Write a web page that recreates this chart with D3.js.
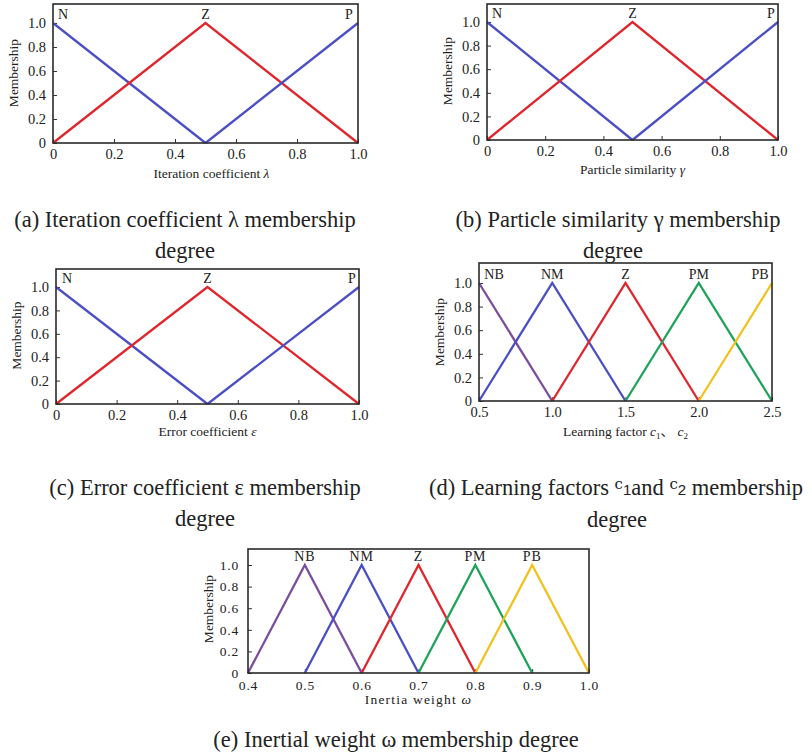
<!DOCTYPE html>
<html>
<head>
<meta charset="utf-8">
<script src="https://cdn.jsdelivr.net/npm/d3@7"></script>
<style>
  html, body { margin: 0; padding: 0; background: #fff; }
  svg { display: block; }
  svg text { font-family: "Liberation Serif", serif; fill: #222; }
</style>
</head>
<body>
<svg id="chart" width="812" height="756"></svg>
<script>
// ---------------- DATA ----------------
// Three-set panels (a), (b), (c): N, Z, P
const threeNames = ["N", "Z", "P"];
const threeX = [[0, 0.5], [0, 0.5, 1.0], [0.5, 1.0]];
const threeY = [[1, 0], [0, 1, 0], [0, 1]];
const threePeaks = [0, 0.5, 1.0];
const unitTicks = [0, 0.2, 0.4, 0.6, 0.8, 1.0];
const unitTickLabels = ["0", "0.2", "0.4", "0.6", "0.8", "1.0"];

// Panel (d): learning factors c1, c2
const dNames = ["NB", "NM", "Z", "PM", "PB"];
const dX = [[0.5, 1.0], [0.5, 1.0, 1.5], [1.0, 1.5, 2.0], [1.5, 2.0, 2.5], [2.0, 2.5]];
const dY = [[1, 0], [0, 1, 0], [0, 1, 0], [0, 1, 0], [0, 1]];
const dPeaks = [0.5, 1.0, 1.5, 2.0, 2.5];
const dTicks = [0.5, 1.0, 1.5, 2.0, 2.5];
const dTickLabels = ["0.5", "1.0", "1.5", "2.0", "2.5"];

// Panel (e): inertia weight
const eNames = ["NB", "NM", "Z", "PM", "PB"];
const eX = [[0.4, 0.5, 0.6], [0.5, 0.6, 0.7], [0.6, 0.7, 0.8], [0.7, 0.8, 0.9], [0.8, 0.9, 1.0]];
const eY = [[0, 1, 0], [0, 1, 0], [0, 1, 0], [0, 1, 0], [0, 1, 0]];
const ePeaks = [0.5, 0.6, 0.7, 0.8, 0.9];
const eTicks = [0.4, 0.5, 0.6, 0.7, 0.8, 0.9, 1.0];
const eTickLabels = ["0.4", "0.5", "0.6", "0.7", "0.8", "0.9", "1.0"];

const yTicks = [0, 0.2, 0.4, 0.6, 0.8, 1.0];
const yTickLabels = ["0", "0.2", "0.4", "0.6", "0.8", "1.0"];

// ---------------- STYLE ----------------
const SERIF = '"Liberation Serif", serif';
const RED = "#e0262d", BLUE = "#4a4fc3", PURPLE = "#7b4d9e", GREEN = "#1fa35b", YELLOW = "#f1c21f";
const threeColors = [BLUE, RED, BLUE];
const fiveColors = [PURPLE, BLUE, RED, GREEN, YELLOW];

const svg = d3.select("#chart");

function drawPanel(p) {
  const x = d3.scaleLinear().domain(p.xDomain).range([p.left, p.right]);
  const y = d3.scaleLinear().domain([0, 1]).range([p.y0, p.y1]);
  const g = svg.append("g");

  const xa = d3.axisBottom(x).tickValues(p.xTicks)
    .tickFormat((d, i) => p.xTickLabels[i]).tickSize(-4).tickPadding(p.xPad || 6);
  const gx = g.append("g").attr("transform", `translate(0,${p.y0})`).call(xa);
  gx.attr("font-family", SERIF);
  gx.select(".domain").remove();
  gx.selectAll("line").attr("stroke", "#333");
  gx.selectAll("text").attr("font-size", p.tickFont).attr("fill", "#222")
    .attr("font-family", SERIF).style("letter-spacing", p.tickSpacing || "0px");

  const ya = d3.axisLeft(y).tickValues(yTicks)
    .tickFormat((d, i) => yTickLabels[i]).tickSize(-4).tickPadding(p.yPad || 7);
  const gy = g.append("g").attr("transform", `translate(${p.left},0)`).call(ya);
  gy.attr("font-family", SERIF);
  gy.select(".domain").remove();
  gy.selectAll("line").attr("stroke", "#333");
  gy.selectAll("text").attr("font-size", p.tickFont).attr("fill", "#222")
    .attr("font-family", SERIF).style("letter-spacing", p.tickSpacing || "0px");

  const line = d3.line().x(d => x(d[0])).y(d => y(d[1]));
  p.xs.forEach((xs, i) => {
    const pts = xs.map((xv, j) => [xv, p.ys[i][j]]);
    g.append("path").attr("d", line(pts)).attr("fill", "none")
      .attr("stroke", p.colors[i]).attr("stroke-width", 2.3)
      .attr("stroke-linejoin", "miter").attr("stroke-linecap", "butt");
  });

  g.append("rect").attr("x", p.left).attr("y", p.top)
    .attr("width", p.right - p.left).attr("height", p.y0 - p.top)
    .attr("fill", "none").attr("stroke", "#2a2a2a").attr("stroke-width", 1.6);

  p.names.forEach((n, i) => {
    let px = x(p.peaks[i]);
    if (p.peaks[i] === p.xDomain[0]) px += p.edgeShift[0];
    if (p.peaks[i] === p.xDomain[1]) px -= p.edgeShift[1];
    g.append("text").attr("x", px).attr("y", p.y1 - 4)
      .attr("text-anchor", "middle").attr("font-size", p.labelFont)
      .attr("font-family", SERIF)
      .style("letter-spacing", p.tickSpacing || "0px")
      .text(n);
  });

  g.append("text")
    .attr("transform", `translate(${p.left - 35},${(p.y0 + p.y1) / 2 - 10}) rotate(-90)`)
    .attr("text-anchor", "middle").attr("font-size", 13.5).attr("font-family", SERIF).text("Membership");

  const t = g.append("text").attr("x", (p.left + p.right) / 2 + p.titleShift)
    .attr("y", p.y0 + p.titleDy).attr("text-anchor", "middle").attr("font-family", SERIF)
    .attr("font-size", p.titleFont).style("letter-spacing", p.titleSpacing || "0px");
  p.title(t);
}

function caption(lines) {
  lines.forEach(l => {
    const t = svg.append("text").attr("x", l.x).attr("y", l.y)
      .attr("text-anchor", "middle").attr("font-size", 22.5).attr("font-family", SERIF).attr("fill", "#111");
    if (typeof l.text === "function") l.text(t); else t.text(l.text);
  });
}

// (a)
drawPanel({
  left: 53, right: 358, top: 4, y0: 143, y1: 23, xDomain: [0, 1],
  xTicks: unitTicks, xTickLabels: unitTickLabels,
  xs: threeX, ys: threeY, colors: threeColors, names: threeNames, peaks: threePeaks,
  edgeShift: [10, 9], tickFont: 14.5, labelFont: 14, titleFont: 13.5, titleDy: 35, titleShift: 6,
  title: t => { t.append("tspan").text("Iteration coefficient "); t.append("tspan").attr("font-style", "italic").text("λ"); }
});
// (b)
drawPanel({
  left: 487, right: 778, top: 4, y0: 140, y1: 22, xDomain: [0, 1],
  xTicks: unitTicks, xTickLabels: unitTickLabels,
  xs: threeX, ys: threeY, colors: threeColors, names: threeNames, peaks: threePeaks,
  edgeShift: [10, 7], tickFont: 14.5, labelFont: 14, titleFont: 13.5, titleDy: 34, titleShift: 0,
  title: t => { t.append("tspan").text("Particle similarity "); t.append("tspan").attr("font-style", "italic").text("γ"); }
});
// (c)
drawPanel({
  left: 56, right: 359, top: 269, y0: 404, y1: 287, xDomain: [0, 1],
  xTicks: unitTicks, xTickLabels: unitTickLabels,
  xs: threeX, ys: threeY, colors: threeColors, names: threeNames, peaks: threePeaks,
  edgeShift: [11, 7], tickFont: 14.5, labelFont: 14, titleFont: 13.5, titleDy: 32, titleShift: 0,
  title: t => { t.append("tspan").text("Error coefficient "); t.append("tspan").attr("font-style", "italic").text("ε"); }
});
// (d)
drawPanel({
  left: 479, right: 772, top: 263, y0: 401, y1: 283, xDomain: [0.5, 2.5],
  xTicks: dTicks, xTickLabels: dTickLabels,
  xs: dX, ys: dY, colors: fiveColors, names: dNames, peaks: dPeaks,
  edgeShift: [15, 12], tickFont: 14.5, labelFont: 14, titleFont: 13.5, titleDy: 35, titleShift: 0,
  title: t => {
    t.append("tspan").text("Learning factor ");
    t.append("tspan").attr("font-style", "italic").text("c");
    t.append("tspan").attr("font-size", 9).attr("dy", 3).text("1");
    t.append("tspan").attr("dy", -3).attr("font-family", '"Noto Sans CJK SC", sans-serif').text("、");
    t.append("tspan").text(" ");
    t.append("tspan").attr("font-style", "italic").text("c");
    t.append("tspan").attr("font-size", 9).attr("dy", 3).text("2");
  }
});
// (e)
drawPanel({
  left: 248, right: 589, top: 549, y0: 673, y1: 565, xDomain: [0.4, 1.0],
  xTicks: eTicks, xTickLabels: eTickLabels,
  xs: eX, ys: eY, colors: fiveColors, names: eNames, peaks: ePeaks,
  edgeShift: [0, 0], tickFont: 13.5, labelFont: 14, titleFont: 13.5, titleDy: 31, titleShift: 0,
  xPad: 7, yPad: 9,
  tickSpacing: "0.8px", titleSpacing: "1.2px",
  title: t => { t.append("tspan").text("Inertia weight "); t.append("tspan").attr("font-style", "italic").text("ω"); }
});

// captions
caption([
  { x: 185, y: 227, text: "(a) Iteration coefficient λ membership" },
  { x: 185, y: 258, text: "degree" },
  { x: 618, y: 227, text: "(b) Particle similarity γ membership" },
  { x: 613, y: 258, text: "degree" },
  { x: 205, y: 495, text: "(c) Error coefficient ε membership" },
  { x: 205, y: 526, text: "degree" },
  { x: 616, y: 495, text: t => {
      t.append("tspan").text("(d) Learning factors ");
      t.append("tspan").attr("font-size", 15).attr("font-family", '"DejaVu Serif", serif').attr("dy", -6).text("c");
      t.append("tspan").attr("font-size", 15).attr("font-family", '"Liberation Sans", sans-serif').attr("dy", 6).text("1");
      t.append("tspan").text("and ");
      t.append("tspan").attr("font-size", 15).attr("font-family", '"DejaVu Serif", serif').attr("dy", -6).text("c");
      t.append("tspan").attr("font-size", 15).attr("font-family", '"Liberation Sans", sans-serif').attr("dy", 6).text("2");
      t.append("tspan").text(" membership");
    } },
  { x: 617, y: 527, text: "degree" },
  { x: 396, y: 747, text: "(e) Inertial weight ω membership degree" }
]);
</script>
</body>
</html>
